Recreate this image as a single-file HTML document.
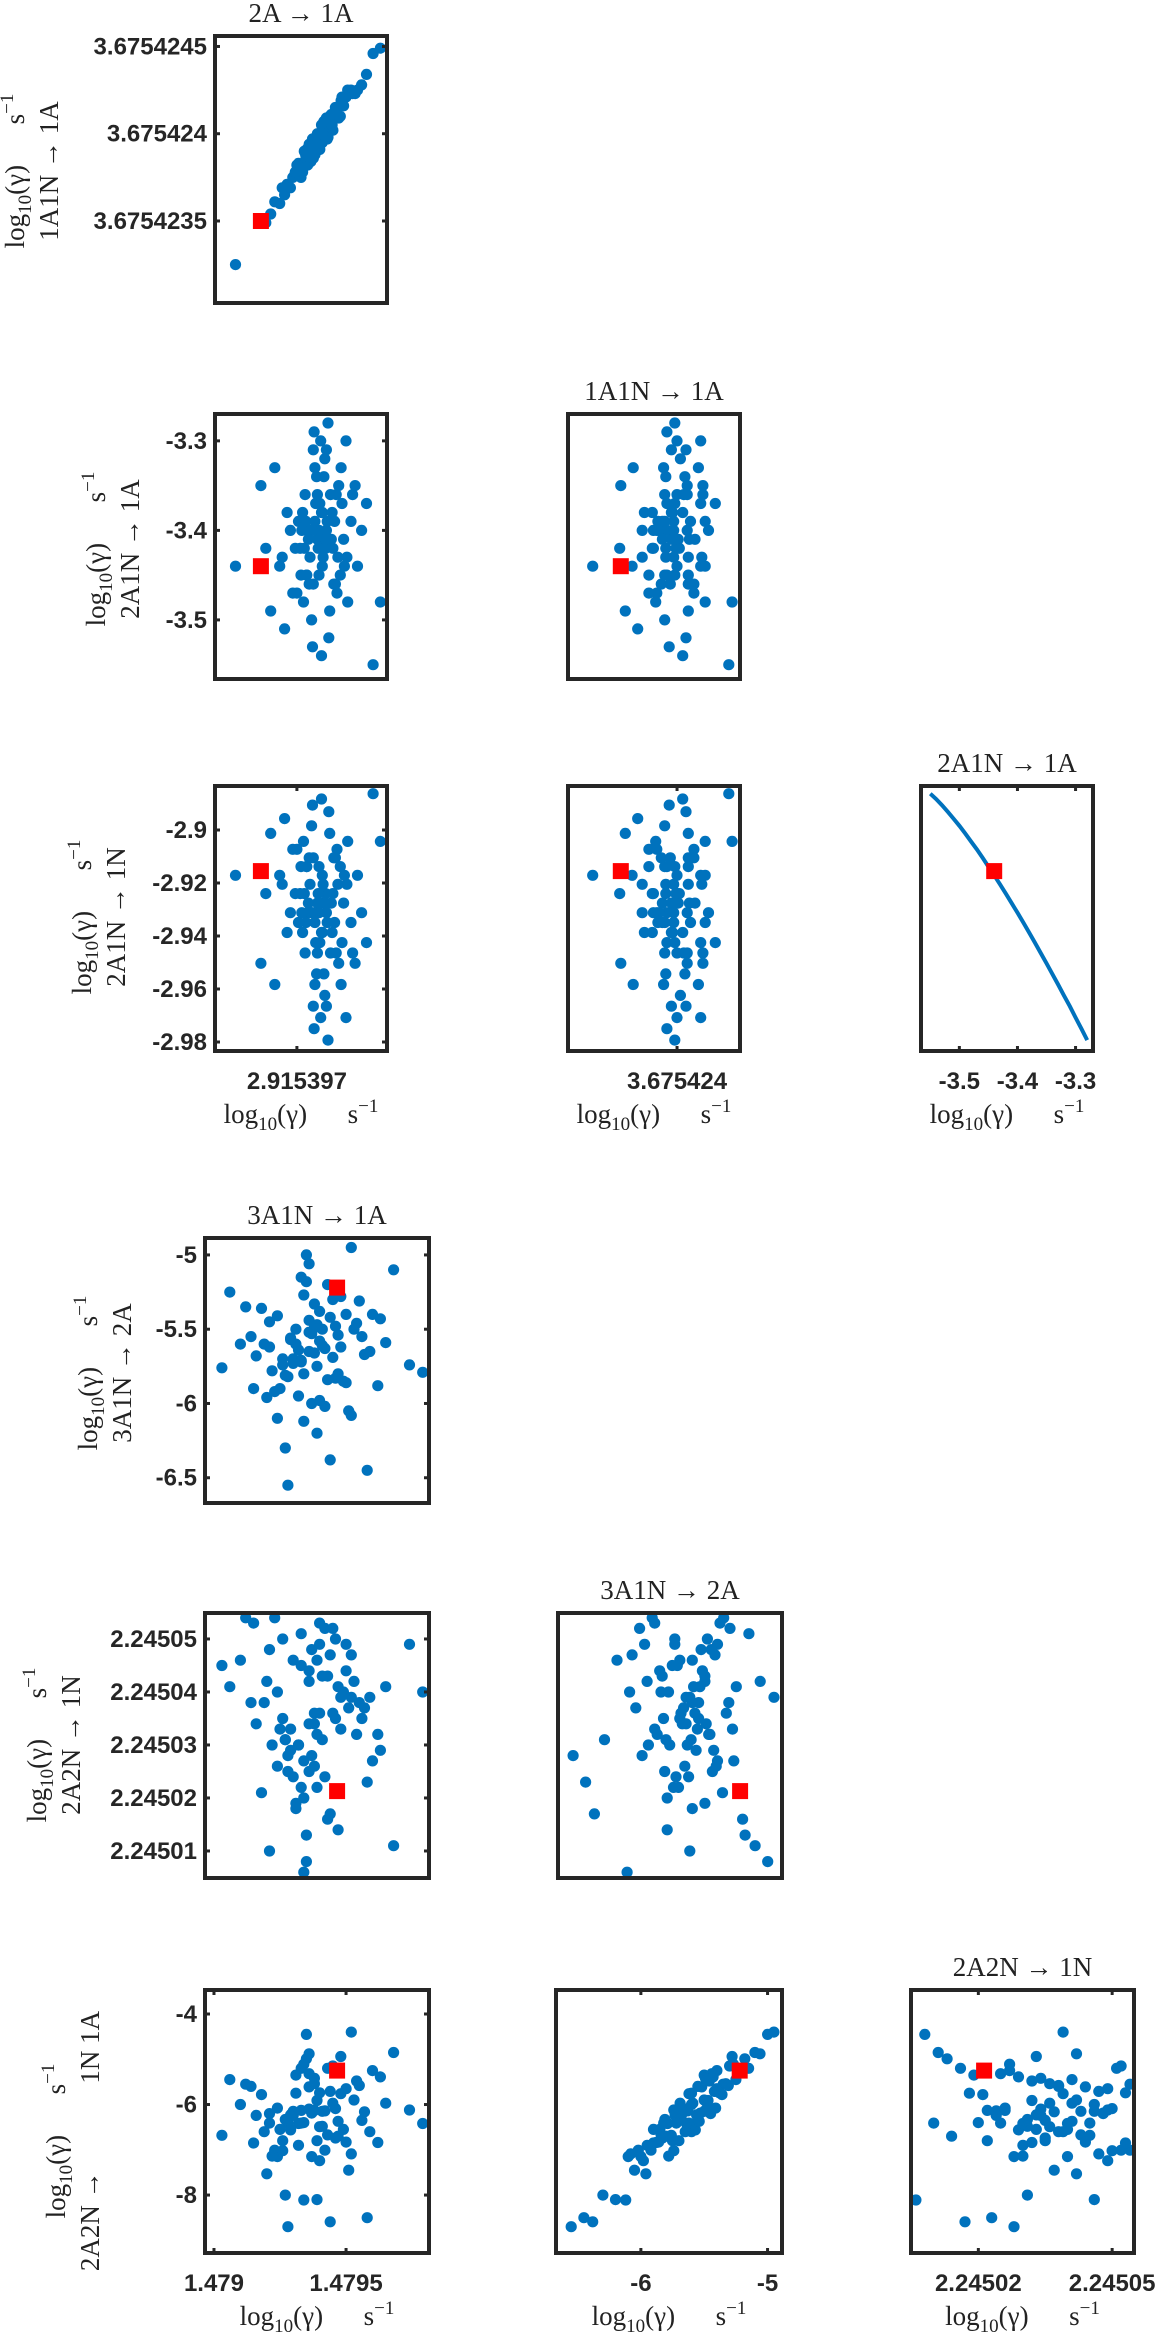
<!DOCTYPE html>
<html><head><meta charset="utf-8">
<style>
html,body{margin:0;padding:0;background:#fff;}
svg{display:block;}
.tick{font-family:"Liberation Sans",sans-serif;font-weight:bold;font-size:24px;fill:#262626;}
.lab{font-family:"Liberation Serif",serif;font-size:27px;fill:#222;}
</style></head>
<body>
<svg id="fig" width="1157" height="2332" viewBox="0 0 1157 2332" xmlns="http://www.w3.org/2000/svg"></svg>
<script>
// Sample values (offsets relative to bases noted)
// A: 2A->1A, value = 2.915397 + aOff*1e-6
const aOff = [0.25,0.31,0.12,0.48,-0.05,0.36,0.22,0.61,0.18,0.02,0.44,0.29,-0.21,0.55,0.08,0.33,0.71,0.15,0.27,0.39,-0.12,0.5,0.2,0.05,0.66,0.35,0.1,-0.32,0.42,0.24,0.58,0.13,0.3,0.85,-0.02,0.21,0.47,0.37,0.16,-0.44,0.28,0.62,0.07,0.34,0.53,0.19,-0.15,0.41,0.26,0.74,0.11,0.38,0.0,0.57,0.23,0.32,-0.27,0.45,0.17,0.93,0.3,0.09,0.51,0.27,-0.08,0.4,0.68,0.14,0.36,-0.75,0.22,0.49,0.04,0.33,0.79,0.19,0.43,-0.18,0.28,0.6,0.12,0.35,1.02,0.25,-0.38,0.46,0.2,0.54,0.06,0.31];
// B: 1A1N->1A, value = 3.675424 + bOff*1e-6
const bOff = [-0.02,-0.05,-0.09,0.09,-0.25,0.09,-0.12,0.22,-0.11,-0.17,0.02,0.0,-0.40,0.21,-0.19,0.01,0.23,-0.06,-0.09,0.08,-0.29,0.10,-0.05,-0.25,0.25,0.0,-0.11,-0.46,0.11,-0.10,0.21,-0.18,0.05,0.34,-0.22,-0.09,0.15,-0.03,-0.10,-0.50,-0.05,0.25,-0.22,0.03,0.10,-0.03,-0.35,0.06,-0.01,0.25,-0.13,-0.02,-0.18,0.16,-0.02,-0.03,-0.39,0.10,-0.16,0.46,-0.04,-0.10,0.09,-0.02,-0.31,0.10,0.23,-0.13,0.08,-0.75,-0.11,0.15,-0.21,0.07,0.28,-0.07,0.05,-0.31,-0.09,0.21,-0.11,-0.02,0.49,0.0,-0.51,0.12,-0.14,0.19,-0.21,0.0];
// C: 2A1N->1A
const cVal = [-3.41,-3.38,-3.45,-3.36,-3.47,-3.40,-3.33,-3.43,-3.50,-3.39,-3.42,-3.30,-3.44,-3.37,-3.48,-3.41,-3.35,-3.46,-3.40,-3.52,-3.38,-3.43,-3.31,-3.45,-3.39,-3.42,-3.36,-3.49,-3.41,-3.34,-3.44,-3.40,-3.54,-3.37,-3.42,-3.29,-3.46,-3.39,-3.43,-3.35,-3.41,-3.48,-3.38,-3.32,-3.45,-3.40,-3.51,-3.36,-3.42,-3.44,-3.39,-3.28,-3.47,-3.41,-3.37,-3.43,-3.33,-3.46,-3.40,-3.55,-3.38,-3.42,-3.35,-3.45,-3.40,-3.49,-3.36,-3.41,-3.31,-3.44,-3.39,-3.47,-3.42,-3.34,-3.40,-3.53,-3.38,-3.43,-3.37,-3.30,-3.45,-3.41,-3.48,-3.36,-3.42,-3.39,-3.46,-3.33,-3.40,-3.44];
// D: 2A1N->1N
const dVal = [-2.9276,-2.9387,-2.9138,-2.9464,-2.9073,-2.9312,-2.9583,-2.9205,-2.8984,-2.9349,-2.9240,-2.9708,-2.9171,-2.9425,-2.9043,-2.9276,-2.9503,-2.9105,-2.9312,-2.8931,-2.9387,-2.9205,-2.9665,-2.9138,-2.9349,-2.9240,-2.9464,-2.9013,-2.9276,-2.9543,-2.9171,-2.9312,-2.8883,-2.9425,-2.9240,-2.9750,-2.9105,-2.9349,-2.9205,-2.9503,-2.9276,-2.9043,-2.9387,-2.9624,-2.9138,-2.9312,-2.8957,-2.9464,-2.9240,-2.9171,-2.9349,-2.9793,-2.9073,-2.9276,-2.9425,-2.9205,-2.9583,-2.9105,-2.9312,-2.8863,-2.9387,-2.9240,-2.9503,-2.9138,-2.9312,-2.9013,-2.9464,-2.9276,-2.9665,-2.9171,-2.9349,-2.9073,-2.9240,-2.9543,-2.9312,-2.8906,-2.9387,-2.9205,-2.9425,-2.9708,-2.9138,-2.9276,-2.9043,-2.9464,-2.9240,-2.9349,-2.9105,-2.9583,-2.9312,-2.9171];
// E: 3A1N->1A, value = 1.479 + eOff*1e-4
const eOff = [3.6,4.1,2.8,5.0,3.2,1.9,4.5,3.9,2.4,5.6,3.0,4.3,6.2,2.1,3.7,4.8,1.2,3.4,5.3,2.7,4.0,3.3,6.8,2.5,4.6,3.8,0.6,5.1,3.1,4.4,2.2,3.6,5.8,4.0,1.6,3.5,4.9,2.9,7.4,3.8,4.2,2.0,5.4,3.3,4.7,1.4,3.9,6.0,2.6,4.3,3.1,5.2,2.3,4.1,3.6,0.3,4.8,3.4,6.5,2.8,3.7,4.5,1.8,5.0,3.2,4.2,2.4,5.7,3.5,7.9,2.9,4.0,3.3,5.5,1.0,4.4,3.8,2.6,6.3,3.6,4.6,2.1,5.2,3.9,3.0,4.7,1.5,3.4,5.9,2.7];
// F: 3A1N->2A
const fVal = [-5.65,-5.5,-5.82,-5.4,-5.95,-5.6,-5.3,-5.75,-6.1,-5.55,-5.7,-5.2,-5.88,-5.45,-6.0,-5.62,-5.35,-5.8,-5.5,-6.3,-5.58,-5.72,-5.1,-5.9,-5.48,-5.66,-5.25,-6.05,-5.6,-5.42,-5.78,-5.52,-6.45,-5.38,-5.68,-5.0,-5.85,-5.57,-5.74,-5.33,-5.63,-5.96,-5.46,-5.15,-5.8,-5.55,-6.2,-5.4,-5.7,-5.84,-5.5,-4.95,-5.92,-5.61,-5.44,-5.76,-5.28,-6.12,-5.59,-6.55,-5.53,-5.69,-5.36,-5.86,-5.64,-6.02,-5.41,-5.67,-5.18,-5.79,-5.56,-5.98,-5.71,-5.31,-5.6,-6.38,-5.49,-5.74,-5.43,-5.06,-5.83,-5.62,-6.08,-5.47,-5.73,-5.54,-5.9,-5.27,-5.65,-5.81];
// G: 2A2N->1N, value = 2.24502 + gOff*1e-5
const gOff = [1.4,2.3,0.5,2.9,1.0,1.8,3.2,0.2,2.0,1.5,2.6,-0.4,1.2,2.8,0.8,1.9,3.4,0.0,2.2,1.1,1.6,2.5,-0.9,1.3,3.0,0.6,2.1,1.7,-0.2,2.7,1.0,2.4,0.3,3.3,1.4,-1.2,2.0,0.9,2.9,1.6,0.4,2.2,1.2,3.1,-0.6,1.8,2.6,0.7,1.5,2.3,-0.1,1.9,3.4,1.1,0.5,2.5,1.3,-1.4,2.1,0.8,2.8,1.6,0.1,2.4,1.0,3.2,0.6,1.7,-0.7,2.0,1.3,2.9,0.2,1.8,2.6,-0.3,1.4,3.0,0.9,2.2,1.5,-1.0,2.7,1.2,0.4,2.1,3.3,0.7,1.9,1.1];
// H: 2A2N->1N 1A
const hVal = [-6.1,-6.15,-6.41,-5.65,-6.9,-6.6,-5.15,-6.8,-7.15,-6.35,-6.15,-5.2,-6.84,-6.2,-7.15,-5.76,-5.55,-6.4,-5.9,-8.0,-6.49,-6.41,-4.85,-6.55,-6.09,-6.13,-5.45,-7.45,-5.75,-5.71,-7.14,-5.61,-8.5,-5.74,-6.24,-4.45,-6.55,-6.56,-6.12,-5.54,-6.14,-7.53,-5.48,-5.2,-6.7,-5.6,-8.1,-5.25,-6.8,-6.67,-5.35,-4.4,-7.01,-6.48,-5.32,-6.68,-4.94,-8.11,-5.97,-8.7,-6.19,-5.97,-5.78,-6.83,-6.42,-7.01,-6.08,-6.16,-4.99,-6.42,-6.23,-7.24,-6.13,-5.58,-6.0,-8.59,-5.42,-7.02,-5.39,-4.88,-6.74,-6.41,-7.09,-5.91,-6.24,-6.37,-6.85,-5.11,-6.6,-6.33];
// Reference (red) point per variable
const refA = -0.44, refB = -0.5, refC = -3.44, refD = -2.9155, refE = 4.66, refF = -5.22, refG = 0.13, refH = -5.25;
// Tick values and labels
const aTicks = [0], aLabels = ['2.915397'];
const bTicks = [0.5, 0, -0.5], bLabels = ['3.6754245','3.675424','3.6754235'];
const bxTicks = [0], bxLabels = ['3.675424'];
const cTicks = [-3.3,-3.4,-3.5], cLabels = ['-3.3','-3.4','-3.5'];
const dTicks = [-2.9,-2.92,-2.94,-2.96,-2.98], dLabels = ['-2.9','-2.92','-2.94','-2.96','-2.98'];
const eTicks = [0,5], eLabels = ['1.479','1.4795'];
const fTicks = [-5,-5.5,-6,-6.5], fLabels = ['-5','-5.5','-6','-6.5'];
const fxTicks = [-6,-5], fxLabels = ['-6','-5'];
const gTicks = [3,2,1,0,-1], gLabels = ['2.24505','2.24504','2.24503','2.24502','2.24501'];
const gxTicks = [0,3], gxLabels = ['2.24502','2.24505'];
const hTicks = [-4,-6,-8], hLabels = ['-4','-6','-8'];

const NS = 'http://www.w3.org/2000/svg';
const svg = document.getElementById('fig');
function mk(tag, attrs, parent){
  const e = document.createElementNS(NS, tag);
  for (const k in attrs) e.setAttribute(k, attrs[k]);
  (parent || svg).appendChild(e);
  return e;
}
const V = {
  A:{d:aOff, dom:[-1.0,1.1], ref:refA},
  B:{d:bOff, dom:[-0.97,0.56], ref:refB},
  C:{d:cVal, dom:[-3.566,-3.27], ref:refC},
  D:{d:dVal, dom:[-2.9834,-2.8834], ref:refD},
  E:{d:eOff, dom:[-0.34,8.14], ref:refE},
  F:{d:fVal, dom:[-6.67,-4.886], ref:refF},
  G:{d:gOff, dom:[-1.51,3.49], ref:refG},
  H:{d:hVal, dom:[-9.28,-3.47], ref:refH}
};
const panels = [
  {id:'2a-vs-1a1n', box:[215,36,387,303], x:'A', y:'B', yt:[bTicks,bLabels], title:'2A → 1A'},
  {id:'2a-vs-2a1n-1a', box:[215,414,387,679], x:'A', y:'C', yt:[cTicks,cLabels]},
  {id:'1a1n-vs-2a1n-1a', box:[568,414,740,679], x:'B', y:'C', title:'1A1N → 1A'},
  {id:'2a-vs-2a1n-1n', box:[215,786,387,1051], x:'A', y:'D', yt:[dTicks,dLabels], xt:[aTicks,aLabels]},
  {id:'1a1n-vs-2a1n-1n', box:[568,786,740,1051], x:'B', y:'D', xt:[bxTicks,bxLabels]},
  {id:'2a1n-1a-vs-2a1n-1n', box:[921,786,1093,1051], x:'C', y:'D', xt:[cTicks,cLabels], title:'2A1N → 1A', line:true},
  {id:'3a1n-1a-vs-3a1n-2a', box:[205,1238,429,1503], x:'E', y:'F', yt:[fTicks,fLabels], title:'3A1N → 1A'},
  {id:'3a1n-1a-vs-2a2n-1n', box:[205,1613,429,1878], x:'E', y:'G', yt:[gTicks,gLabels]},
  {id:'3a1n-2a-vs-2a2n-1n', box:[558,1613,782,1878], x:'F', y:'G', title:'3A1N → 2A'},
  {id:'3a1n-1a-vs-2a2n-1n1a', box:[205,1990,429,2253], x:'E', y:'H', yt:[hTicks,hLabels], xt:[eTicks,eLabels]},
  {id:'3a1n-2a-vs-2a2n-1n1a', box:[556,1990,782,2253], x:'F', y:'H', xt:[fxTicks,fxLabels]},
  {id:'2a2n-1n-vs-2a2n-1n1a', box:[911,1990,1134,2253], x:'G', y:'H', xt:[gxTicks,gxLabels], title:'2A2N → 1N'}
];

function xlabel(cx, y){
  const t = mk('text', {x:cx, y:y, 'text-anchor':'middle', class:'lab'});
  
  
  t.innerHTML = 'log<tspan dy="7" font-size="19">10</tspan><tspan dy="-7">(γ)</tspan>\u2003\u2002s<tspan dy="-11" font-size="19">−1</tspan>';
}
function ylabel(cx, cy, line2, gap){
  const g = mk('g', {transform:'translate('+cx+','+cy+') rotate(-90)'});
  
  
  const t1 = mk('text', {x:0, y:0, 'text-anchor':'middle', class:'lab'}, g);
  t1.innerHTML = 'log<tspan dy="7" font-size="19">10</tspan><tspan dy="-7">(γ)</tspan>\u2003\u2002s<tspan dy="-11" font-size="19">−1</tspan>';
  mk('text', {x:0, y:gap, 'text-anchor':'middle', class:'lab'}, g).textContent = line2;
}

panels.forEach(p => {
  const [x0,y0,x1,y1] = p.box;
  const vx = V[p.x], vy = V[p.y];
  const sx = v => x0 + (v - vx.dom[0]) / (vx.dom[1]-vx.dom[0]) * (x1-x0);
  const sy = v => y1 - (v - vy.dom[0]) / (vy.dom[1]-vy.dom[0]) * (y1-y0);
  const g = mk('g', {});
  
  
  const clipId = 'clip-' + p.id;
  const cp = mk('clipPath', {id:clipId}, g);
  mk('rect', {x:x0-3, y:y0-3, width:x1-x0+6, height:y1-y0+6}, cp);
  const pts = mk('g', {'clip-path':'url(#'+clipId+')', fill:'#0072BD'}, g);
  
  
  if (p.line) {
    const idx = vx.d.map((_, i) => i).sort((a,b) => vx.d[a]-vx.d[b]);
    const path = idx.map((i,k) => (k?'L':'M') + sx(vx.d[i]).toFixed(1) + ',' + sy(vy.d[i]).toFixed(1)).join(' ');
    const pl = mk('path', {d:path, fill:'none', stroke:'#0072BD', 'stroke-width':4}, pts);
    
    
  } else {
    vx.d.forEach((v, i) => {
      const c = mk('circle', {cx:sx(v).toFixed(1), cy:sy(vy.d[i]).toFixed(1), r:5.6}, pts);
      
      
    });
  }
  const red = mk('rect', {x:(sx(vx.ref)-8).toFixed(1), y:(sy(vy.ref)-8).toFixed(1), width:16, height:16, fill:'#ff0000'}, g);
  
  
  const box = mk('rect', {x:x0, y:y0, width:x1-x0, height:y1-y0, fill:'none', stroke:'#262626', 'stroke-width':4}, g);
  
  
  if (p.yt) {
    p.yt[0].forEach((tv, i) => {
      const y = sy(tv);
      mk('line', {x1:x0, y1:y, x2:x0+5, y2:y, stroke:'#262626', 'stroke-width':3}, g);
      mk('line', {x1:x1, y1:y, x2:x1-5, y2:y, stroke:'#262626', 'stroke-width':3}, g);
      const t = mk('text', {x:x0-8, y:y+8, 'text-anchor':'end', class:'tick'}, g);
      
      
      t.textContent = p.yt[1][i];
    });
  }
  if (p.xt) {
    p.xt[0].forEach((tv, i) => {
      const x = sx(tv);
      mk('line', {x1:x, y1:y1, x2:x, y2:y1-5, stroke:'#262626', 'stroke-width':3}, g);
      mk('line', {x1:x, y1:y0, x2:x, y2:y0+5, stroke:'#262626', 'stroke-width':3}, g);
      const t = mk('text', {x:x, y:y1+38, 'text-anchor':'middle', class:'tick'}, g);
      
      
      t.textContent = p.xt[1][i];
    });
    xlabel((x0+x1)/2, y1+72);
  }
  if (p.title) {
    const t = mk('text', {x:(x0+x1)/2, y:y0-14, 'text-anchor':'middle', class:'lab'}, g);
    
    
    t.textContent = p.title;
  }
});

ylabel(24, 171, '1A1N → 1A', 34);
ylabel(105, 549, '2A1N → 1A', 34);
ylabel(91, 917, '2A1N → 1N', 34);
ylabel(97, 1373, '3A1N → 2A', 34);
ylabel(46, 1745, '2A2N → 1N', 34);
ylabel(65, 2141, '2A2N →\u2003\u2003\u2003 1N 1A', 34);
</script>
</body></html>
